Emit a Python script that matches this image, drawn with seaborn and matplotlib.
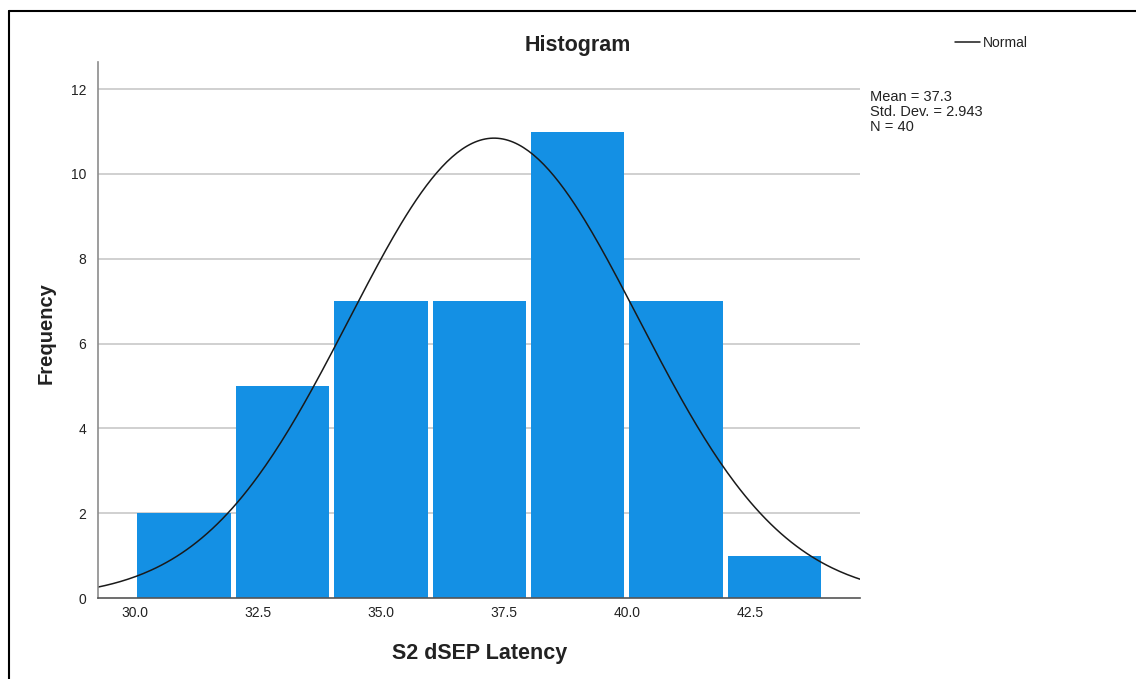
import numpy as np
import pandas as pd
import matplotlib
matplotlib.use('Agg')
import matplotlib.pyplot as plt
import seaborn as sns

# Histogram data
bin_edges = [30, 32, 34, 36, 38, 40, 42, 44]
counts = [2, 5, 7, 7, 11, 7, 1]
mean_val = 37.3
std_val = 2.943
n_val = 40
x_ticks = [30.0, 32.5, 35.0, 37.5, 40.0, 42.5]
y_ticks = [0, 2, 4, 6, 8, 10, 12]

sns.set_style('white')
plt.rcParams['font.family'] = ['Liberation Sans', 'DejaVu Sans']

bin_centers = [(a + b) / 2 for a, b in zip(bin_edges[:-1], bin_edges[1:])]
df = pd.DataFrame({'latency': bin_centers, 'count': counts})

fig = plt.figure(figsize=(11.36, 6.79), dpi=100)
ax = fig.add_axes([97.5 / 1136, 1 - 598 / 679, (860 - 97.5) / 1136, (598 - 62) / 679])

xmin, xmax = 29.24, 44.74
ymax = 12.64

# gridlines behind bars
for y in y_ticks[1:]:
    ax.axhline(y, color='#c8c8c8', lw=1.2, zorder=0)

sns.histplot(data=df, x='latency', weights='count', bins=bin_edges, ax=ax,
             color='#1490e4', alpha=1, linewidth=0, shrink=0.95, zorder=2)

# normal curve scaled to counts
bin_width = bin_edges[1] - bin_edges[0]
xs = np.linspace(xmin, xmax, 300)
ys = n_val * bin_width / (std_val * np.sqrt(2 * np.pi)) * np.exp(-0.5 * ((xs - mean_val) / std_val) ** 2)
sns.lineplot(x=xs, y=ys, ax=ax, color='#1a1a1a', lw=1.1, zorder=3)

ax.set_xlim(xmin, xmax)
ax.set_ylim(0, ymax)
ax.set_xticks(x_ticks)
ax.set_xticklabels([f'{t:.1f}' for t in x_ticks])
ax.set_yticks(y_ticks)
ax.tick_params(axis='both', length=0, labelsize=10, colors='#222222')
ax.tick_params(axis='x', pad=6)
ax.tick_params(axis='y', pad=8)
for s in ['top', 'right']:
    ax.spines[s].set_visible(False)
ax.spines['left'].set_color('#8c8c8c')
ax.spines['bottom'].set_color('#555555')
ax.spines['left'].set_linewidth(1.2)
ax.spines['bottom'].set_linewidth(1.2)
ax.spines['left'].set_zorder(4)
ax.spines['bottom'].set_zorder(4)
ax.set_xlabel('')
ax.set_ylabel('')

fig.text(578 / 1136, 1 - 45 / 679, 'Histogram', ha='center', va='center',
         fontsize=15.5, fontweight='bold', color='#222222')
fig.text(480 / 1136, 1 - 653 / 679, 'S2 dSEP Latency', ha='center', va='center',
         fontsize=15.5, fontweight='bold', color='#222222')
fig.text(46 / 1136, 1 - 333 / 679, 'Frequency', ha='center', va='center',
         rotation=90, fontsize=14.5, fontweight='bold', color='#222222')

# legend for normal curve
fig.add_artist(plt.Line2D([955 / 1136, 980 / 1136], [1 - 42 / 679, 1 - 42 / 679],
                          color='#1a1a1a', lw=1.1))
fig.text(983 / 1136, 1 - 43 / 679, 'Normal', ha='left', va='center', fontsize=10, color='#222222')

fig.text(870 / 1136, 1 - 90 / 679, f'Mean = {mean_val}\nStd. Dev. = {std_val}\nN = {n_val}',
         ha='left', va='top', fontsize=10.5, color='#222222', linespacing=1.08)

# outer frame (left and top edges)
fig.add_artist(plt.Line2D([8.5 / 1136, 8.5 / 1136], [0, 1 - 11 / 679], color='black', lw=1.5))
fig.add_artist(plt.Line2D([8.5 / 1136, 1], [1 - 11 / 679, 1 - 11 / 679], color='black', lw=1.5))

fig.savefig('out.png', dpi=100)
